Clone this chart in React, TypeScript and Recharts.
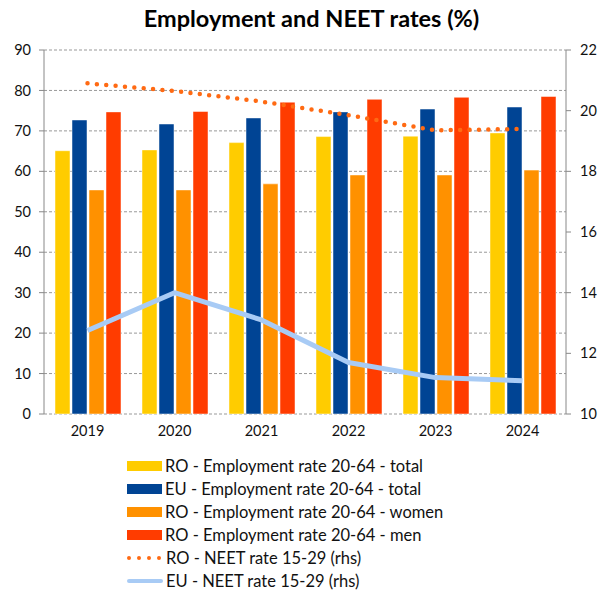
import { ComposedChart, Bar, Line, XAxis, YAxis, CartesianGrid } from 'recharts'

const years = ['2019', '2020', '2021', '2022', '2023', '2024']
const roTotal = [65.1, 65.3, 67.1, 68.6, 68.7, 69.5]
const euTotal = [72.7, 71.7, 73.2, 74.7, 75.4, 75.9]
const roWomen = [55.4, 55.4, 56.9, 59.1, 59.1, 60.3]
const roMen = [74.7, 74.8, 77.1, 77.8, 78.3, 78.5]
const roNeet = [20.9, 20.65, 20.3, 19.85, 19.35, 19.4]
const euNeet = [12.75, 14.0, 13.1, 11.7, 11.2, 11.1]

const leftTicks = [0, 10, 20, 30, 40, 50, 60, 70, 80, 90]
const rightTicks = [10, 12, 14, 16, 18, 20, 22]

const series = [
  { key: 'roTotal', name: 'RO - Employment rate 20-64 - total', color: '#ffcc00', kind: 'bar' },
  { key: 'euTotal', name: 'EU - Employment rate 20-64 - total', color: '#004494', kind: 'bar' },
  { key: 'roWomen', name: 'RO - Employment rate 20-64 - women', color: '#ff9100', kind: 'bar' },
  { key: 'roMen', name: 'RO - Employment rate 20-64 - men', color: '#ff3c00', kind: 'bar' },
  { key: 'roNeet', name: 'RO - NEET rate 15-29 (rhs)', color: '#ff6a13', kind: 'dots' },
  { key: 'euNeet', name: 'EU - NEET rate 15-29 (rhs)', color: '#a8cbf5', kind: 'line' },
]

const data = years.map((y, i) => ({
  year: y,
  idx: i + 0.5,
  roTotal: roTotal[i],
  euTotal: euTotal[i],
  roWomen: roWomen[i],
  roMen: roMen[i],
  roNeet: roNeet[i],
  euNeet: euNeet[i],
}))

const font = 'Lato, "Open Sans", sans-serif'
const tick = { fontSize: 14.5, fill: '#111', fontFamily: font }

function LegendSwatch({ kind, color }: { kind: string; color: string }) {
  if (kind === 'bar') {
    return <div style={{ width: 35, height: 10, background: color }} />
  }
  return (
    <svg width={36} height={10}>
      {kind === 'dots' ? (
        <line x1={2} y1={5} x2={34} y2={5} stroke={color} strokeWidth={4} strokeLinecap="round" strokeDasharray="0 10" />
      ) : (
        <line x1={2} y1={5} x2={34} y2={5} stroke={color} strokeWidth={4} strokeLinecap="round" />
      )}
    </svg>
  )
}

export default function App() {
  return (
    <div style={{ position: 'absolute', left: 0, top: 0, width: 599, height: 590, background: '#fff', fontFamily: font }}>
      <div style={{ position: 'absolute', left: 0, width: 599, top: 4, textAlign: 'center', fontSize: 23.5, fontWeight: 700, color: '#000', paddingLeft: 12 }}>
        Employment and NEET rates (%)
      </div>
      <ComposedChart
        width={599}
        height={450}
        data={data}
        margin={{ top: 50, right: 0, bottom: 6, left: 0 }}
        barCategoryGap={11}
        barGap={2}
      >
        <CartesianGrid vertical={false} stroke="#999" strokeDasharray="3 2" yAxisId="left" />
        <XAxis xAxisId="edges" type="number" dataKey="idx" domain={[0, 6]} ticks={[0, 1, 2, 3, 4, 5, 6]} tick={false} height={0} axisLine={{ stroke: '#888' }} tickLine={{ stroke: '#888' }} tickSize={5} />
        <XAxis dataKey="year" tick={tick} axisLine={false} tickLine={false} tickSize={5} tickMargin={7} height={30} />
        <YAxis yAxisId="left" domain={[0, 90]} ticks={leftTicks} width={44} tick={tick} axisLine={{ stroke: '#888' }} tickLine={{ stroke: '#888' }} tickSize={5} tickMargin={8} />
        <YAxis yAxisId="right" orientation="right" domain={[10, 22]} ticks={rightTicks} width={33} tick={tick} axisLine={{ stroke: '#888' }} tickLine={{ stroke: '#888' }} tickSize={5} tickMargin={9} />
        {series.filter((s) => s.kind === 'bar').map((s) => (
          <Bar key={s.key} dataKey={s.key} yAxisId="left" fill={s.color} stroke="#fff" strokeOpacity={0.6} strokeWidth={0.8} isAnimationActive={false} />
        ))}
        <Line dataKey="euNeet" yAxisId="right" type="linear" stroke="#a8cbf5" strokeWidth={5} strokeLinejoin="round" dot={false} isAnimationActive={false} />
        <Line dataKey="roNeet" yAxisId="right" type="linear" stroke="#ff6a13" strokeWidth={4.5} strokeLinecap="round" strokeDasharray="0 9.4" dot={false} isAnimationActive={false} />
      </ComposedChart>
      <div style={{ position: 'absolute', left: 127, top: 454 }}>
        {series.map((s) => (
          <div key={s.key} style={{ display: 'flex', alignItems: 'center', height: 23, fontSize: 16.5, color: '#111' }}>
            <LegendSwatch kind={s.kind} color={s.color} />
            <span style={{ marginLeft: 3 }}>{s.name}</span>
          </div>
        ))}
      </div>
    </div>
  )
}
